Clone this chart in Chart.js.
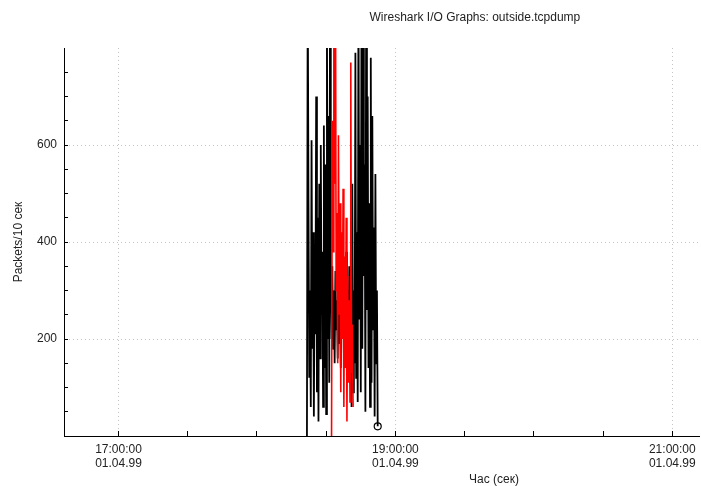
<!DOCTYPE html>
<html>
<head>
<meta charset="utf-8">
<script src="https://cdn.jsdelivr.net/npm/chart.js@4.4.1/dist/chart.umd.min.js"></script>
<style>
  html, body { margin: 0; background: #fff; overflow: hidden; }
  #wrap { position: relative; width: 701px; height: 486px; overflow: hidden; }
  .lbl { position: absolute; font: 12px "Liberation Sans", Arial, sans-serif; color: #222; white-space: nowrap; }
</style>
</head>
<body>
<div id="wrap">
  <canvas id="io_graph" width="705" height="486"></canvas>
  <div class="lbl" id="title">Wireshark I/O Graphs: outside.tcpdump</div>
  <div class="lbl" id="xtitle">Час (сек)</div>
</div>
<script>
// time in seconds since midnight, one sample every 20 s
var axisMin = 59783;
var axisMax = 76315;
var dateLabel = '01.04.99';
var interval = 20;

// 17:00, 19:00, 21:00 get labels, half hours only a tick
var xMajor = [61200, 68400, 75600];
var xTicks = [61200, 63000, 64800, 66600, 68400, 70200, 72000, 73800, 75600];
var yMajor = [200, 400, 600];
var yTicks = [50, 100, 150, 200, 250, 300, 350, 400, 450, 500, 550, 600, 650, 700, 750];

var blackStart = 66100;
var blackValues = [
  0, 950, 480, 120, 300, 60, 610, 180, 420, 40,
  350, 210, 700, 90, 450, 30, 520, 160, 600, 250,
  380, 60, 640, 140, 560, 45, 870, 200, 660, 110,
  900, 320, 200, 350, 180, 300, 150, 340, 220, 280,
  160, 330, 190, 260, 140, 310, 210, 350, 170, 290,
  240, 380, 120, 300, 180, 350, 110, 380, 60, 520,
  90, 300, 150, 790, 120, 420, 70, 950, 240, 600,
  90, 1000, 180, 880, 330, 560, 50, 920, 260, 700,
  140, 480, 60, 780, 110, 660, 220, 430, 40, 540,
  150, 300, 20
];

var redStart = 66740;
var redValues = [
  0, 650, 380, 900, 520, 1000, 300, 460, 150, 620,
  250, 480, 90, 420, 200, 510, 60, 370, 140, 450,
  30, 330, 110, 280, 70, 770, 130, 230, 60
];

var toPoints = function(start, values){
  var pts = [];
  for (var i = 0; i < values.length; i++) {
    pts.push({x: start + i * interval, y: values[i]});
  }
  return pts;
};

var pad = function(n){ return (n < 10 ? '0' : '') + n; };
var fmtTime = function(s){
  return pad(Math.floor(s / 3600)) + ':' + pad(Math.floor(s % 3600 / 60)) + ':' + pad(s % 60);
};

var tickFont = {family: '"Liberation Sans", Arial, sans-serif', size: 12, lineHeight: 1.17};
var dotted = '#c4c4c4';
var none = 'rgba(0,0,0,0)';

var ctx = document.getElementById('io_graph').getContext('2d');
var chart = new Chart(ctx, {
  type: 'line',
  data: {
    datasets: [{
      label: 'all',
      data: toPoints(blackStart, blackValues),
      borderColor: '#000',
      borderWidth: 1.8,
      pointRadius: function(c){ return c.dataIndex === blackValues.length - 1 ? 3.5 : 0; },
      pointBorderColor: '#000',
      pointBackgroundColor: none,
      pointBorderWidth: 1.2,
      order: 2
    }, {
      label: 'filter',
      data: toPoints(redStart, redValues),
      borderColor: '#ff0000',
      borderWidth: 1.6,
      pointRadius: 0,
      order: 1
    }]
  },
  options: {
    responsive: false,
    animation: false,
    layout: { padding: { top: 48, right: 0 } },
    plugins: { legend: { display: false }, tooltip: { enabled: false } },
    scales: {
      x: {
        type: 'linear',
        bounds: 'data',
        min: axisMin,
        max: axisMax,
        afterBuildTicks: function(scale){ scale.ticks = xTicks.map(function(v){ return {value: v}; }); },
        afterFit: function(scale){
          scale.height = 50;
          scale.paddingLeft = 0;
          scale.paddingRight = 0;
        },
        border: { color: '#000', width: 1, dash: [1, 3] },
        grid: {
          color: function(c){ return c.tick && xMajor.indexOf(c.tick.value) >= 0 ? dotted : none; },
          tickColor: '#000',
          tickLength: -5
        },
        ticks: {
          autoSkip: false,
          maxRotation: 0,
          padding: 12,
          color: '#222',
          font: tickFont,
          callback: function(v){ return xMajor.indexOf(v) >= 0 ? [fmtTime(v), dateLabel] : ''; }
        }
      },
      y: {
        bounds: 'data',
        min: 0,
        max: 800,
        afterBuildTicks: function(scale){ scale.ticks = yTicks.map(function(v){ return {value: v}; }); },
        afterFit: function(scale){
          scale.width = 64;
          scale.paddingTop = 0;
          scale.paddingBottom = 0;
        },
        border: { color: '#000', width: 1, dash: [1, 3] },
        grid: {
          color: function(c){ return c.tick && yMajor.indexOf(c.tick.value) >= 0 ? dotted : none; },
          tickColor: '#000',
          tickLength: -4
        },
        title: {
          display: true,
          text: 'Packets/10 сек',
          color: '#222',
          font: tickFont,
          padding: { top: 12, bottom: 0 }
        },
        ticks: {
          autoSkip: false,
          padding: 11,
          color: '#222',
          font: tickFont,
          callback: function(v){ return yMajor.indexOf(v) >= 0 ? v : ''; }
        }
      }
    }
  }
});

// place html titles
var t = document.getElementById('title');
t.style.left = (475 - t.offsetWidth / 2) + 'px';
t.style.top = (17 - t.offsetHeight / 2) + 'px';
var xt = document.getElementById('xtitle');
xt.style.left = (494 - xt.offsetWidth / 2) + 'px';
xt.style.top = (479 - xt.offsetHeight / 2) + 'px';
</script>
</body>
</html>
